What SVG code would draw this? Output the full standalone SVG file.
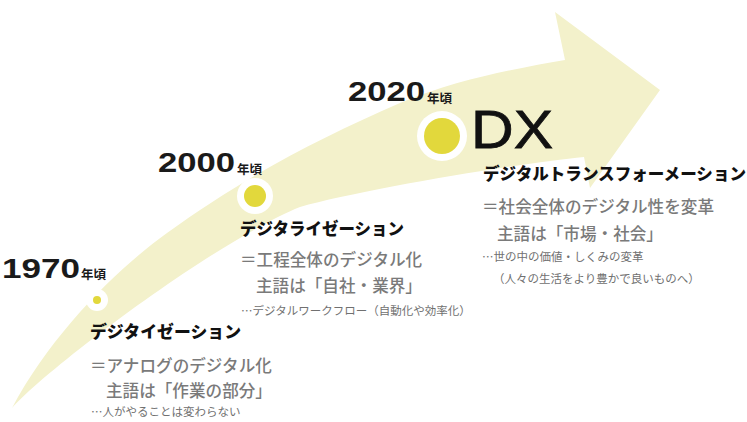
<svg xmlns="http://www.w3.org/2000/svg" width="747" height="422" viewBox="0 0 747 422">
<style>
.year{font-family:"Liberation Sans",Arial,sans-serif;font-weight:700;font-size:28px;fill:#1a1a1a}
.nen{font-family:"Noto Sans CJK JP",sans-serif;font-weight:700;font-size:12.5px;fill:#1a1a1a}
.head{font-family:"Noto Sans CJK JP",sans-serif;font-weight:900;font-size:16.6px;fill:#111}
.line{font-family:"Noto Sans CJK JP",sans-serif;font-weight:500;font-size:16.6px;fill:#7a7a7a}
.small{font-family:"Noto Sans CJK JP",sans-serif;font-weight:400;font-size:11.5px;fill:#707070}
.ring{fill:#fff}
.dot{fill:#e2d83c}
</style>
<rect width="747" height="422" fill="#fff"/>
<g id="arrow">
<path fill="#f3f1cb" d="M12,408 C52,333 117,269 167,233 C247,175 320,138 400,103 C460,78 520,68 565,60 L555,12 L660,90 L590,188 L584,157 C520,163 360,190 300,207 C220,239 52,364 12,408 Z"/>
</g>
<g id="era1970">
<text class="year" x="2" y="278" textLength="78" lengthAdjust="spacingAndGlyphs">1970</text>
<text class="nen" x="81" y="279">年頃</text>
<circle class="ring" cx="97" cy="300" r="11"/>
<circle class="dot" cx="97" cy="300" r="4"/>
<text class="head" x="90" y="338" textLength="151" lengthAdjust="spacingAndGlyphs">デジタイゼーション</text>
<text class="line" x="90" y="372">＝アナログのデジタル化</text>
<text class="line" x="106" y="397">主語は「作業の部分」</text>
<text class="small" x="91" y="416">…人がやることは変わらない</text>
</g>
<g id="era2000">
<text class="year" x="158" y="172" textLength="77" lengthAdjust="spacingAndGlyphs">2000</text>
<text class="nen" x="237" y="174">年頃</text>
<circle class="ring" cx="255" cy="196" r="18"/>
<circle class="dot" cx="255" cy="196" r="11"/>
<text class="head" x="240" y="235" textLength="164" lengthAdjust="spacingAndGlyphs">デジタライゼーション</text>
<text class="line" x="240" y="266">＝工程全体のデジタル化</text>
<text class="line" x="256" y="292">主語は「自社・業界」</text>
<text class="small" x="241" y="315">…デジタルワークフロー（自動化や効率化）</text>
</g>
<g id="era2020">
<text class="year" x="348" y="101" textLength="77" lengthAdjust="spacingAndGlyphs">2020</text>
<text class="nen" x="427" y="103">年頃</text>
<circle class="ring" cx="442" cy="136" r="25"/>
<circle class="dot" cx="442" cy="136" r="18"/>
<text x="471" y="148" font-family="'Liberation Sans',Arial,sans-serif" font-size="54" fill="#111" stroke="#111" stroke-width="0.8" textLength="82" lengthAdjust="spacingAndGlyphs">DX</text>
<text class="head" x="483" y="180" textLength="263" lengthAdjust="spacingAndGlyphs">デジタルトランスフォーメーション</text>
<text class="line" x="482" y="213">＝社会全体のデジタル性を変革</text>
<text class="line" x="497" y="240">主語は「市場・社会」</text>
<text class="small" x="482" y="261">…世の中の価値・しくみの変革</text>
<text class="small" x="493" y="283">（人々の生活をより豊かで良いものへ）</text>
</g>
</svg>
